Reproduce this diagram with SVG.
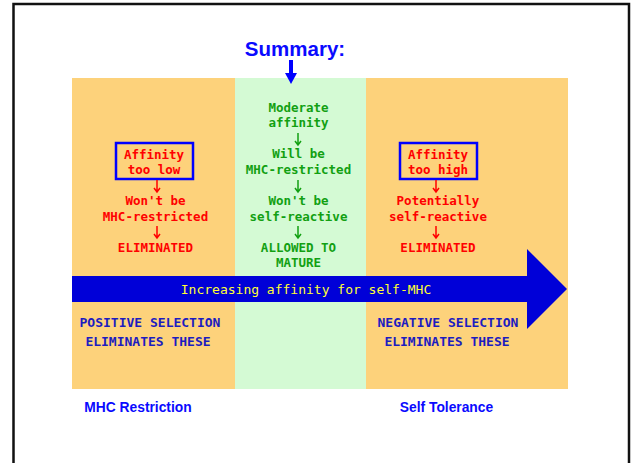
<svg xmlns="http://www.w3.org/2000/svg" width="632" height="463" viewBox="0 0 632 463">
<style>
.px{font-family:"DejaVu Sans Mono","Liberation Mono",monospace;font-weight:bold;font-size:12.5px;text-anchor:middle}
.r{fill:#ff0000}.g{fill:#12a012}.nb{fill:#1c1cc0;font-size:13px}.y{fill:#ffff33;font-size:13px;font-weight:normal}
.hd{font-family:"Liberation Sans",Arial,sans-serif;font-weight:bold;fill:#0a0aff}
.box{fill:none;stroke:#0000ff;stroke-width:2.5}
.ar{fill:none;stroke-width:1.5}
</style>
<rect x="0" y="0" width="632" height="463" fill="#ffffff"/>
<path d="M13.5 470 V4 H629 V470" fill="none" stroke="#111" stroke-width="2.5"/>
<g id="background">
<rect x="72" y="78" width="496" height="311" fill="#fdd27b"/>
<rect x="235" y="78" width="131" height="311" fill="#d4fad4"/>
</g>
<g id="title">
<text class="hd" x="295" y="56" font-size="20.5" text-anchor="middle">Summary:</text>
</g>
<g id="left-column">
<rect class="box" x="116" y="143" width="77" height="36"/>
<text class="px r" x="154" y="159">Affinity</text>
<text class="px r" x="154" y="174">too low</text>
<text class="px r" x="155.5" y="205">Won't be</text>
<text class="px r" x="155.5" y="220.5">MHC-restricted</text>
<text class="px r" x="155.5" y="252">ELIMINATED</text>
</g>
<g id="center-column">
<text class="px g" x="298.5" y="111.5">Moderate</text>
<text class="px g" x="298.5" y="127">affinity</text>
<text class="px g" x="298.5" y="158">Will be</text>
<text class="px g" x="298.5" y="174">MHC-restricted</text>
<text class="px g" x="298.5" y="205">Won't be</text>
<text class="px g" x="298.5" y="220.5">self-reactive</text>
<text class="px g" x="298.5" y="252">ALLOWED TO</text>
<text class="px g" x="298.5" y="267">MATURE</text>
</g>
<g id="right-column">
<rect class="box" x="400" y="143" width="77" height="36"/>
<text class="px r" x="438" y="159">Affinity</text>
<text class="px r" x="438" y="174">too high</text>
<text class="px r" x="438" y="205">Potentially</text>
<text class="px r" x="438" y="220.5">self-reactive</text>
<text class="px r" x="438" y="252">ELIMINATED</text>
</g>
<g id="affinity-arrow">
<polygon points="72,276 527,276 527,249 567,289 527,329 527,302 72,302" fill="#0000d8"/>
<text class="px y" x="306" y="294">Increasing affinity for self-MHC</text>
</g>
<g id="selection-labels">
<text class="px nb" x="150" y="327">POSITIVE SELECTION</text>
<text class="px nb" x="148" y="346">ELIMINATES THESE</text>
<text class="px nb" x="448" y="327">NEGATIVE SELECTION</text>
<text class="px nb" x="447" y="346">ELIMINATES THESE</text>
<text class="hd" x="138" y="412" font-size="13.8" text-anchor="middle">MHC Restriction</text>
<text class="hd" x="446.5" y="412" font-size="13.8" text-anchor="middle">Self Tolerance</text>
</g>
<g id="connectors">
<path d="M291 60 V75" stroke="#0000ff" stroke-width="4" fill="none"/>
<polygon points="285,73 297,73 291,84" fill="#0000ff"/>
<g class="ar" stroke="#ff0000">
<path d="M157 180 V192 M154 188 L157 192 L160 188"/>
<path d="M157 226 V238 M154 234 L157 238 L160 234"/>
<path d="M436 180 V192 M433 188 L436 192 L439 188"/>
<path d="M436 226 V238 M433 234 L436 238 L439 234"/>
</g>
<g class="ar" stroke="#12a012">
<path d="M298 133 V145 M295 141 L298 145 L301 141"/>
<path d="M298 180 V192 M295 188 L298 192 L301 188"/>
<path d="M298 226 V238 M295 234 L298 238 L301 234"/>
</g>
</g>
</svg>
